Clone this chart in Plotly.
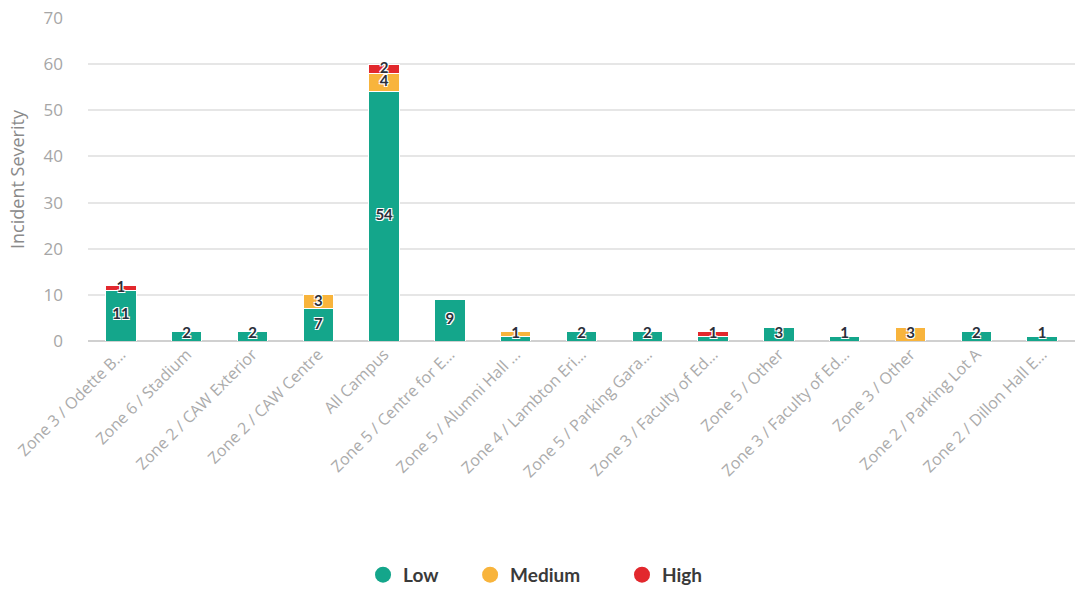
import plotly.graph_objects as go

categories = ["Zone 3 / Odette B…", "Zone 6 / Stadium", "Zone 2 / CAW Exterior", "Zone 2 / CAW Centre",
              "All Campus", "Zone 5 / Centre for E…", "Zone 5 / Alumni Hall …", "Zone 4 / Lambton Eri…",
              "Zone 5 / Parking Gara…", "Zone 3 / Faculty of Ed…", "Zone 5 / Other", "Zone 3 / Faculty of Ed…",
              "Zone 3 / Other", "Zone 2 / Parking Lot A", "Zone 2 / Dillon Hall E…"]
low = [11, 2, 2, 7, 54, 9, 1, 2, 2, 1, 3, 1, 0, 2, 1]
medium = [0, 0, 0, 3, 4, 0, 1, 0, 0, 0, 0, 0, 3, 0, 0]
high = [1, 0, 0, 0, 2, 0, 0, 0, 0, 1, 0, 0, 0, 0, 0]

series = [("Low", low, "#14a68b"), ("Medium", medium, "#f8b43c"), ("High", high, "#e2282d")]
legend_x = [0.3377, 0.4373, 0.5786]
xs = list(range(len(categories)))

fig = go.Figure()
for name, vals, col in series:
    fig.add_trace(go.Bar(x=xs, y=vals, name=name, marker=dict(color=col, line=dict(color="white", width=1)),
                         showlegend=False, hoverinfo="y+name"))

# data labels at segment centres; hide a label when the next one above overlaps it
lx, ly, lt = [], [], []
for i in xs:
    base = 0
    segs = []
    for _, vals, _ in series:
        v = vals[i]
        if v > 0:
            segs.append((max(base + v / 2, 1.4), v))
        base += v
    for k, (yy, v) in enumerate(segs):
        if k + 1 < len(segs) and segs[k + 1][0] - yy < 2.5:
            continue
        lx.append(i)
        ly.append(yy)
        lt.append(str(v))

shadow = "1px 1px 0 #fff, -1px -1px 0 #fff, 1px -1px 0 #fff, -1px 1px 0 #fff"
fig.add_trace(go.Scatter(x=lx, y=ly, text=lt, mode="text", showlegend=False, hoverinfo="skip",
                         textfont=dict(family="Lato", size=15, color="#2b2f3a", weight="bold", shadow=shadow)))

legend_font = dict(family="Lato", size=19, color="#3a3a3a", weight="bold")
layout_legends = {}
for k, (name, _, col) in enumerate(series):
    key = "legend" if k == 0 else f"legend{k + 1}"
    fig.add_trace(go.Scatter(x=[None], y=[None], mode="markers", name=name, legend=key,
                             marker=dict(symbol="circle", size=17, color=col)))
    layout_legends[key] = dict(orientation="h", xref="container", x=legend_x[k], xanchor="left",
                               yref="container", y=0.024, yanchor="middle", font=legend_font,
                               itemsizing="trace", itemwidth=30, bgcolor="rgba(0,0,0,0)")

fig.update_layout(
    width=1075, height=589,
    margin=dict(l=88, r=0, t=18, b=248),
    plot_bgcolor="white", paper_bgcolor="white",
    barmode="stack", bargap=0.54,
    font=dict(family="Open Sans"),
    **layout_legends,
)
fig.update_xaxes(range=[-0.5, len(categories) - 0.5], tickmode="array", tickvals=xs, ticktext=categories,
                 tickangle=-45, tickfont=dict(family="Open Sans", size=16, color="#ababab"),
                 showgrid=False, showline=False, ticks="", automargin=False)
fig.update_yaxes(range=[0, 70], dtick=10, gridcolor="#e6e6e6", gridwidth=1.5, zeroline=True,
                 zerolinecolor="#d0d0d0", zerolinewidth=1.5, automargin=False,
                 tickfont=dict(family="Open Sans", size=17, color="#a6a6a6"), ticklabelstandoff=24,
                 title=dict(text="Incident Severity", font=dict(family="Open Sans", size=18, color="#8a8a8a"),
                            standoff=14))
fig.write_html("out.html", config={"displayModeBar": False},
               post_script="document.body.style.margin='0';")
